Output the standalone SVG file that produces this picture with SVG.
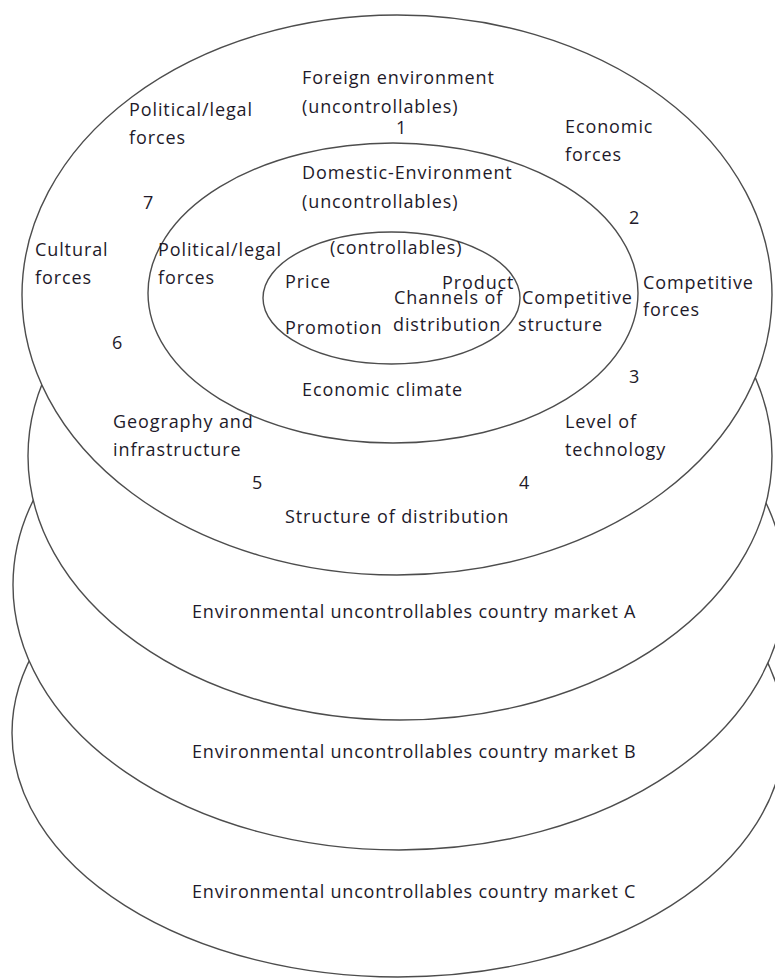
<svg xmlns="http://www.w3.org/2000/svg" width="775" height="978" viewBox="0 0 775 978">
  <style>
    .ring { fill: #ffffff; stroke: #4d4d4d; stroke-width: 1.4; }
    .inner { fill: none; stroke: #4d4d4d; stroke-width: 1.4; }
    .t { font-family: "Open Sans", "Liberation Sans", sans-serif; font-size: 18px; letter-spacing: 0.9px; fill: #1e1a2a; }
    .m { font-family: "Open Sans", "Liberation Sans", sans-serif; font-size: 18px; letter-spacing: 0.8px; fill: #1e1a2a; }
  </style>
  <rect width="775" height="978" fill="#ffffff"/>

  <!-- stacked country markets, drawn back to front -->
  <g id="market-c">
    <ellipse class="ring" cx="398" cy="733" rx="386" ry="244"/>
    <text class="m" x="192" y="898">Environmental uncontrollables country market C</text>
  </g>
  <g id="market-b">
    <ellipse class="ring" cx="399" cy="585" rx="386" ry="265"/>
    <text class="m" x="192" y="758">Environmental uncontrollables country market B</text>
  </g>
  <g id="market-a">
    <ellipse class="ring" cx="400" cy="456" rx="372" ry="264"/>
    <text class="m" x="192" y="618">Environmental uncontrollables country market A</text>
  </g>

  <!-- foreign environment ring with its seven forces -->
  <g id="foreign-environment">
    <ellipse class="ring" cx="397" cy="295" rx="375" ry="280"/>
    <text class="t" x="302" y="84">Foreign environment</text>
    <text class="t" x="302" y="113">(uncontrollables)</text>
    <text class="t" x="396" y="134">1</text>
    <text class="t" x="129" y="116">Political/legal</text>
    <text class="t" x="129" y="144">forces</text>
    <text class="t" x="565" y="133">Economic</text>
    <text class="t" x="565" y="161">forces</text>
    <text class="t" x="143" y="209">7</text>
    <text class="t" x="629" y="224">2</text>
    <text class="t" x="35" y="256">Cultural</text>
    <text class="t" x="35" y="284">forces</text>
    <text class="t" x="643" y="289">Competitive</text>
    <text class="t" x="643" y="316">forces</text>
    <text class="t" x="112" y="349">6</text>
    <text class="t" x="629" y="383">3</text>
    <text class="t" x="113" y="428">Geography and</text>
    <text class="t" x="113" y="456">infrastructure</text>
    <text class="t" x="565" y="428">Level of</text>
    <text class="t" x="565" y="456">technology</text>
    <text class="t" x="252" y="489">5</text>
    <text class="t" x="519" y="489">4</text>
    <text class="t" x="285" y="523">Structure of distribution</text>
  </g>

  <!-- domestic environment ring -->
  <g id="domestic-environment">
    <ellipse class="inner" cx="393" cy="293" rx="245" ry="150"/>
    <text class="t" x="302" y="179">Domestic-Environment</text>
    <text class="t" x="302" y="208">(uncontrollables)</text>
    <text class="t" x="158" y="256">Political/legal</text>
    <text class="t" x="158" y="284">forces</text>
    <text class="t" x="522" y="304">Competitive</text>
    <text class="t" x="518" y="331">structure</text>
    <text class="t" x="302" y="396">Economic climate</text>
  </g>

  <!-- controllable marketing mix -->
  <g id="controllables">
    <ellipse class="inner" cx="391.5" cy="298" rx="128.5" ry="66"/>
    <text class="t" x="330" y="254">(controllables)</text>
    <text class="t" x="285" y="288">Price</text>
    <text class="t" x="442" y="289">Product</text>
    <text class="t" x="394" y="304">Channels of</text>
    <text class="t" x="285" y="334">Promotion</text>
    <text class="t" x="393" y="331">distribution</text>
  </g>

  <g id="connectors"/>
</svg>
